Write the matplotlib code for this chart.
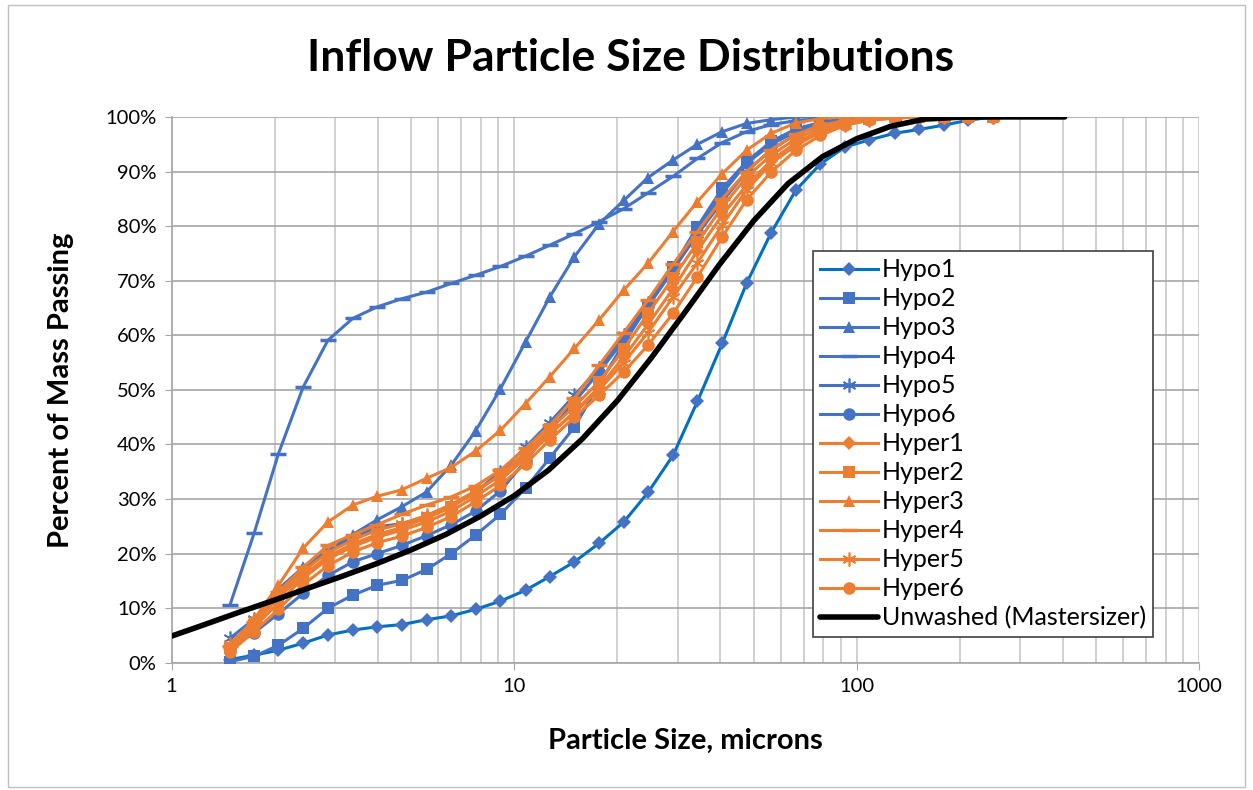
import matplotlib
matplotlib.use("Agg")
import matplotlib.pyplot as plt
from matplotlib.patches import Rectangle
from matplotlib.ticker import FixedLocator, LogLocator, NullFormatter

plt.rcParams['font.family'] = ['Lato', 'DejaVu Sans']

# LISST size classes (median sizes, microns)
sizes = [1.48, 1.74, 2.05, 2.42, 2.86, 3.38, 3.98, 4.70, 5.55, 6.55, 7.72, 9.12,
         10.8, 12.7, 15.0, 17.7, 20.9, 24.6, 29.1, 34.3, 40.5, 47.7, 56.3, 66.5,
         78.4, 92.6, 109, 129, 152, 180, 212, 250]

hypo1 = [0.6, 1.4, 2.3, 3.6, 5.1, 6.0, 6.6, 7.0, 7.9, 8.6, 9.8, 11.3, 13.3, 15.8, 18.5, 21.9,
         25.8, 31.2, 38.0, 47.9, 58.5, 69.5, 78.8, 86.6, 91.4, 94.5, 95.8, 97.0, 97.7, 98.5, 99.4, 100]
hypo2 = [0.2, 1.2, 3.2, 6.3, 10.0, 12.4, 14.2, 15.1, 17.1, 20.0, 23.4, 27.2, 32.0, 37.5, 43.2, 51.0,
         58.5, 65.5, 72.5, 79.9, 86.9, 91.8, 95.5, 97.8, 99.0, 99.7, 100, 100, 100, 100, 100, 100]
hypo3 = [3.0, 7.5, 13.5, 17.5, 20.5, 23.5, 26.2, 28.6, 31.3, 36.2, 42.5, 50.2, 58.8, 67.0, 74.4, 80.4,
         84.7, 88.9, 92.1, 95.0, 97.3, 98.8, 99.5, 100, 100, 100, 100, 100, 100, 100, 100, 100]
hypo4 = [10.6, 23.7, 38.3, 50.5, 59.1, 63.1, 65.2, 66.7, 67.9, 69.5, 71.0, 72.6, 74.5, 76.5, 78.6, 80.8,
         83.2, 86.1, 89.1, 92.4, 95.3, 97.3, 98.6, 99.3, 99.7, 100, 100, 100, 100, 100, 100, 100]
hypo5 = [4.5, 8.0, 12.5, 17.0, 20.5, 22.8, 24.9, 25.5, 26.7, 28.7, 31.3, 35.0, 39.5, 44.0, 49.0, 54.0,
         60.0, 66.0, 72.0, 78.5, 84.5, 90.0, 94.0, 96.8, 98.5, 99.4, 99.8, 100, 100, 100, 100, 100]
hypo6 = [2.5, 5.5, 9.0, 12.7, 16.0, 18.5, 20.0, 21.5, 23.3, 25.3, 27.8, 31.5, 37.0, 42.5, 47.8, 53.3,
         59.1, 65.3, 71.9, 79.0, 86.0, 91.5, 95.0, 97.3, 98.6, 99.4, 99.8, 100, 100, 100, 100, 100]

hyper1 = [2.5, 6.5, 11.0, 15.5, 19.0, 21.3, 23.0, 24.3, 25.8, 27.8, 30.5, 33.5, 37.5, 41.8, 46.0, 50.5,
          56.0, 62.0, 68.5, 75.5, 82.0, 87.5, 92.0, 95.3, 97.5, 98.8, 99.5, 99.9, 100, 100, 100, 100]
hyper2 = [2.8, 7.0, 12.0, 16.0, 19.5, 21.8, 23.5, 24.8, 26.5, 28.5, 31.3, 34.5, 38.5, 42.8, 47.0, 51.5,
          57.5, 64.0, 70.5, 77.0, 83.5, 89.0, 93.0, 96.0, 98.0, 99.1, 99.7, 100, 100, 100, 100, 100]
hyper3 = [3.0, 8.0, 14.2, 21.0, 25.8, 28.9, 30.5, 31.7, 33.8, 35.8, 38.8, 42.6, 47.5, 52.4, 57.6, 62.8,
          68.3, 73.2, 79.0, 84.5, 89.6, 93.9, 97.0, 98.9, 99.7, 100, 100, 100, 100, 100, 100, 100]
hyper4 = [3.0, 7.5, 13.0, 17.5, 21.5, 23.5, 25.3, 27.2, 28.9, 30.4, 32.4, 35.3, 39.3, 43.5, 48.5, 54.5,
          60.5, 66.5, 73.0, 79.0, 85.0, 90.0, 94.0, 96.8, 98.5, 99.3, 99.8, 100, 100, 100, 100, 100]
hyper5 = [3.5, 7.8, 12.5, 16.8, 20.2, 22.5, 24.3, 25.5, 27.0, 29.0, 31.5, 34.3, 38.0, 42.0, 45.8, 50.0,
          55.0, 60.5, 67.0, 73.3, 80.2, 86.6, 91.5, 94.8, 97.2, 98.6, 99.4, 99.8, 100, 100, 100, 100]
hyper6 = [2.0, 5.7, 9.8, 14.3, 17.8, 20.3, 22.0, 23.2, 24.8, 26.8, 29.5, 32.5, 36.5, 40.8, 45.0, 49.0,
          53.3, 58.2, 64.0, 70.7, 78.0, 84.8, 89.9, 93.9, 96.6, 98.5, 99.4, 99.8, 100, 100, 100, 100]

# Mastersizer curve for the unwashed sample
ms_size = [1.0, 1.26, 1.58, 2.0, 2.51, 3.16, 3.98, 5.01, 6.31, 7.94, 10.0, 12.6, 15.8, 20.0,
           25.1, 31.6, 39.8, 50.1, 63.1, 79.4, 100, 126, 158, 200, 251, 316, 405]
ms_pass = [4.9, 7.1, 9.3, 11.5, 13.7, 15.9, 18.2, 20.7, 23.5, 26.8, 30.6, 35.3, 41.0, 48.0,
           55.8, 64.3, 73.0, 81.0, 87.8, 92.7, 96.0, 98.3, 99.6, 99.95, 100, 100, 100]

BLUE = '#4472C4'
DARK_BLUE = '#0070C0'
ORANGE = '#ED7D31'
STAR = (6, 2, 0)

series = [
    ('Hypo1', hypo1, DARK_BLUE, BLUE, 'D', 7),
    ('Hypo2', hypo2, BLUE, BLUE, 's', 8),
    ('Hypo3', hypo3, BLUE, BLUE, '^', 9),
    ('Hypo4', hypo4, BLUE, BLUE, '_', 12),
    ('Hypo5', hypo5, BLUE, BLUE, STAR, 10),
    ('Hypo6', hypo6, BLUE, BLUE, 'o', 9),
    ('Hyper1', hyper1, ORANGE, ORANGE, 'D', 7),
    ('Hyper2', hyper2, ORANGE, ORANGE, 's', 8),
    ('Hyper3', hyper3, ORANGE, ORANGE, '^', 9),
    ('Hyper4', hyper4, ORANGE, ORANGE, '_', 12),
    ('Hyper5', hyper5, ORANGE, ORANGE, STAR, 10),
    ('Hyper6', hyper6, ORANGE, ORANGE, 'o', 9),
]

fig = plt.figure(figsize=(12.53, 7.90), dpi=100)
ax = fig.add_axes([0.137, 0.161, 0.820, 0.691])

for name, vals, lc, mc, mk, ms in series:
    mew = 1.2 if mk == STAR else (2.5 if mk == '_' else 0)
    ax.plot(sizes, [v / 100 for v in vals], color=lc, lw=2.2, marker=mk, markersize=ms,
            markerfacecolor=mc, markeredgecolor=mc, markeredgewidth=mew, label=name, zorder=3)

ax.plot(ms_size, [v / 100 for v in ms_pass], color='black', lw=4, solid_joinstyle='round',
        solid_capstyle='round', label='Unwashed (Mastersizer)', zorder=4)

ax.set_xscale('log')
ax.set_xlim(1, 1000)
ax.set_ylim(0, 1)
ax.xaxis.set_major_locator(FixedLocator([1, 10, 100, 1000]))
ax.set_xticklabels(['1', '10', '100', '1000'])
ax.xaxis.set_minor_locator(LogLocator(base=10, subs=range(2, 10)))
ax.xaxis.set_minor_formatter(NullFormatter())
ax.set_yticks([i / 10 for i in range(11)])
ax.set_yticklabels([f'{i * 10}%' for i in range(11)])

ax.grid(True, axis='y', which='major', color='#A6A6A6', lw=1.2)
ax.grid(True, axis='x', which='both', color='#C8C8C8', lw=1.2)
ax.set_axisbelow(True)
for side in ['top', 'right']:
    ax.spines[side].set_visible(False)
for side in ['left', 'bottom']:
    ax.spines[side].set_color('#A6A6A6')
    ax.spines[side].set_linewidth(1.2)
ax.tick_params(axis='both', which='major', labelsize=14.5, length=5, color='#A6A6A6', pad=6)
ax.tick_params(axis='x', which='minor', length=0)

fig.text(0.503, 0.927, 'Inflow Particle Size Distributions', ha='center', va='center',
         fontsize=32, fontweight='bold')
fig.text(0.547, 0.062, 'Particle Size, microns', ha='center', va='center',
         fontsize=21, fontweight='bold')
fig.text(0.049, 0.506, 'Percent of Mass Passing', ha='center', va='center', rotation=90,
         fontsize=21, fontweight='bold')

leg = ax.legend(loc='lower left', bbox_to_anchor=(0.624, 0.047), borderaxespad=0,
                fontsize=18, handlelength=2.3, handletextpad=0.15, labelspacing=0.24,
                fancybox=False, framealpha=1, edgecolor='#404040', borderpad=0.3)
leg.get_frame().set_linewidth(1.2)
leg.set_zorder(10)

fig.patches.append(Rectangle((0.006, 0.004), 0.988, 0.99, transform=fig.transFigure,
                             fill=False, edgecolor='#BFBFBF', lw=1))

fig.savefig('out.png', dpi=100)
